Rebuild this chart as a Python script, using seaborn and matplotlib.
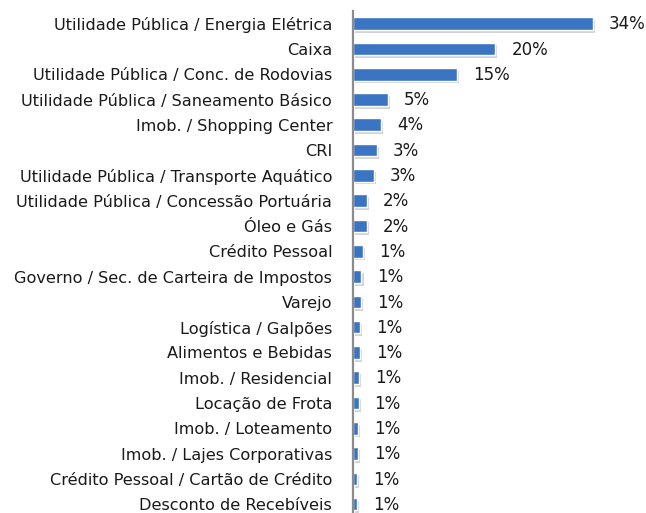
import pandas as pd
import matplotlib.pyplot as plt
import matplotlib.patheffects as pe
import seaborn as sns

categories = [
    'Utilidade Pública / Energia Elétrica',
    'Caixa',
    'Utilidade Pública / Conc. de Rodovias',
    'Utilidade Pública / Saneamento Básico',
    'Imob. / Shopping Center',
    'CRI',
    'Utilidade Pública / Transporte Aquático',
    'Utilidade Pública / Concessão Portuária',
    'Óleo e Gás',
    'Crédito Pessoal',
    'Governo / Sec. de Carteira de Impostos',
    'Varejo',
    'Logística / Galpões',
    'Alimentos e Bebidas',
    'Imob. / Residencial',
    'Locação de Frota',
    'Imob. / Loteamento',
    'Imob. / Lajes Corporativas',
    'Crédito Pessoal / Cartão de Crédito',
    'Desconto de Recebíveis',
]
shares = [34.0, 20.2, 14.8, 5.0, 4.0, 3.4, 3.0, 2.0, 2.0, 1.4,
          1.2, 1.1, 1.0, 1.0, 0.9, 0.8, 0.7, 0.7, 0.6, 0.6]

df = pd.DataFrame({'categoria': categories, 'share': shares})

sns.set_theme(style="white")
plt.rcParams['font.family'] = ['DejaVu Sans']

fig = plt.figure(figsize=(6.46, 5.13), dpi=100)
ax = fig.add_axes([353 / 646, 0.0, 293 / 646, 1 - 11 / 513])

sns.barplot(data=df, x='share', y='categoria', orient='h', color='#3a74c2',
            width=0.5, saturation=1, ax=ax)

# soft drop shadow under the bars, Excel style
for bar in ax.patches:
    bar.set_path_effects([pe.SimplePatchShadow(offset=(1.5, -2), shadow_rgbFace='#555555', alpha=0.25),
                          pe.Normal()])

for i, v in enumerate(shares):
    ax.annotate(f'{v:.0f}%', xy=(v, i), xytext=(11.5, -0.5), textcoords='offset points',
                va='center', ha='left', fontsize=12, color='#1a1a1a')

ax.set_xlim(0, 293 / 7.05)
ax.set_ylim(19.35, -0.5)
ax.set_xlabel('')
ax.set_ylabel('')
ax.set_xticks([])
ax.tick_params(axis='y', length=0, pad=15, labelsize=11.6, labelcolor='#1a1a1a')

for s in ['top', 'right', 'bottom']:
    ax.spines[s].set_visible(False)
ax.spines['left'].set_color('#8c8c8c')
ax.spines['left'].set_linewidth(1.6)

fig.savefig('out.png', dpi=100)
plt.close(fig)
